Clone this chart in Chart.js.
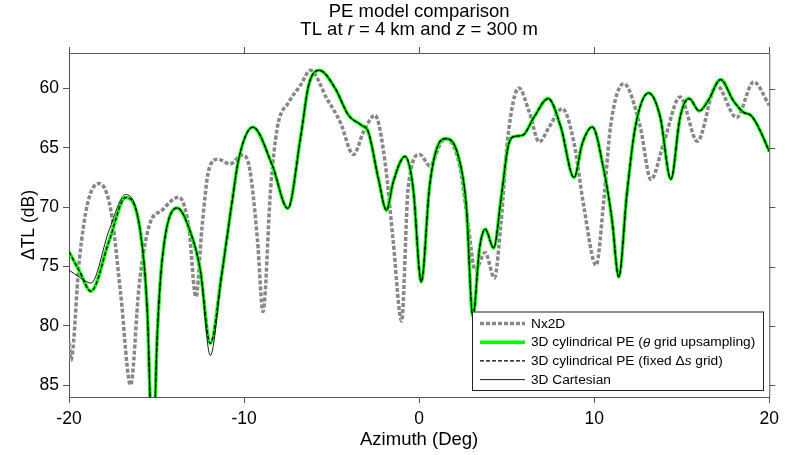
<!DOCTYPE html>
<html>
<head>
<meta charset="utf-8">
<script src="https://cdn.jsdelivr.net/npm/chart.js@4.4.0/dist/chart.umd.min.js"></script>
<style>
  html, body { margin: 0; padding: 0; background: #fff; }
  #wrap { width: 785px; height: 455px; }
</style>
</head>
<body>
<div id="wrap"><canvas id="c" width="785" height="455"></canvas></div>
<script>
// --- data ---
const xTicks = [-20, -10, 0, 10, 20];
const yTicks = [60, 65, 70, 75, 80, 85];

// Nx2D (grey dotted)
const nx2dAz = [-20, -19.89, -19.41, -18.94, -18.28, -17.61, -17.05, -16.48, -16.0, -15.44, -14.68, -13.73, -13.16, -12.75, -12.4, -12.02, -11.5, -10.8, -10.1, -9.72, -9.24, -8.92, -8.48, -8.11, -7.44, -6.78, -6.21, -5.27, -4.51, -3.75, -3.18, -2.52, -1.95, -1.48, -1.0, -0.63, 0.04, 0.61, 1.27, 1.55, 2.31, 2.78, 3.2, 3.77, 4.3, 4.68, 5.06, 5.7, 6.29, 6.86, 7.43, 8.18, 8.85, 9.41, 10.11, 10.55, 10.93, 11.69, 12.63, 13.24, 13.96, 14.91, 15.89, 16.99, 18.13, 19.11, 20];
const nx2dTL = [81.4, 82.9, 74.46, 69.69, 68.0, 70.25, 77.27, 85.0, 76.7, 71.66, 70.25, 69.15, 71.66, 77.56, 71.66, 66.88, 65.95, 66.35, 65.6, 66.46, 72.64, 78.8, 68.42, 63.37, 61.13, 59.72, 58.46, 60.84, 62.81, 65.56, 63.66, 62.25, 66.18, 72.9, 79.6, 68.42, 65.56, 66.52, 64.5, 64.25, 66.46, 71.24, 75.3, 73.82, 75.96, 71.24, 64.2, 59.95, 61.97, 64.5, 63.23, 61.69, 64.6, 69.97, 74.89, 69.4, 63.23, 59.58, 63.23, 67.67, 64.64, 60.71, 64.44, 59.72, 62.44, 59.44, 61.4];

// 3D cylindrical PE and 3D Cartesian share one azimuth grid
const cylAz = [-20, -19.4, -18.75, -17.7, -16.76, -15.91, -15.53, -15.22, -14.95, -14.68, -13.82, -13.07, -12.5, -11.93, -11.27, -10.7, -10.3, -9.5, -8.39, -7.5, -6.78, -6.31, -5.7, -4.79, -4.03, -3.28, -2.9, -2.33, -1.86, -1.48, -0.8, -0.34, 0.12, 0.6, 1.08, 1.55, 2.22, 2.69, 3.07, 3.45, 3.77, 4.26, 4.68, 5.06, 5.34, 5.91, 6.57, 7.37, 8.09, 8.85, 9.32, 9.89, 10.55, 11.02, 11.4, 11.87, 12.35, 13.11, 13.77, 14.38, 14.91, 15.42, 16.0, 16.52, 17.22, 17.94, 18.5, 18.98, 19.4, 20];
const cylUpTL = [73.77, 75.4, 77.08, 72.8, 69.18, 72.2, 78.7, 91, 80.5, 74.46, 70.06, 72.08, 75.3, 81.48, 75.6, 69.7, 65.9, 63.25, 66.46, 70.1, 64.2, 59.72, 58.46, 60.0, 62.25, 63.1, 63.66, 67.58, 70.25, 67.87, 65.72, 68.42, 76.29, 68.2, 64.78, 64.22, 65.62, 69.83, 79.2, 73.48, 71.85, 73.43, 69.27, 65.05, 64.08, 63.94, 62.39, 60.84, 63.23, 67.5, 64.64, 63.23, 66.88, 71.1, 75.87, 68.85, 63.23, 60.37, 62.39, 67.64, 62.39, 60.84, 61.88, 60.99, 59.24, 61.0, 61.97, 62.3, 63.3, 65.3];
const cylFixTL = cylUpTL.slice();
const cartTL = [75.3, 75.9, 76.4, 71.9, 68.93, 72.2, 78.7, 91, 80.5, 74.46, 70.06, 72.08, 75.3, 82.5, 75.6, 69.7, 65.9, 63.25, 66.46, 70.1, 64.2, 59.72, 58.46, 60.0, 62.25, 63.1, 63.66, 67.58, 70.25, 67.87, 65.72, 68.42, 76.29, 68.2, 64.78, 64.22, 65.62, 69.83, 79.2, 73.48, 71.85, 73.43, 69.27, 65.05, 64.08, 63.94, 62.39, 60.84, 63.23, 67.5, 64.64, 63.23, 66.88, 71.1, 75.87, 68.85, 63.23, 60.37, 62.39, 67.64, 62.39, 60.84, 61.88, 60.99, 59.24, 61.0, 61.97, 62.3, 63.3, 65.3];

const FONT = '"Liberation Sans", Arial, sans-serif';
const AXIS = '#555';

function pts(az, tl) {
    return az.map((a, i) => ({ x: a, y: tl[i] }));
}

// texte avec segments italiques
function richText(ctx, parts, x, y, size, align) {
    let w = 0;
    parts.forEach(p => {
        ctx.font = (p[1] ? 'italic ' : '') + size + 'px ' + FONT;
        w += ctx.measureText(p[0]).width;
    });
    let cx = align === 'center' ? x - w / 2 : x;
    parts.forEach(p => {
        ctx.font = (p[1] ? 'italic ' : '') + size + 'px ' + FONT;
        ctx.fillText(p[0], cx, y);
        cx += ctx.measureText(p[0]).width;
    });
}

const legendItems = [
    { parts: [['Nx2D', false]], color: '#888', width: 3.5, dash: [4, 2] },
    { parts: [['3D cylindrical PE (', false], ['\u03B8', true], [' grid upsampling)', false]], color: '#00ff00', width: 3.5, dash: [] },
    { parts: [['3D cylindrical PE (fixed \u0394', false], ['s', true], [' grid)', false]], color: '#000', width: 1.3, dash: [4, 2] },
    { parts: [['3D Cartesian', false]], color: '#000', width: 0.9, dash: [] }
];

const decor = {
    id: 'decor',
    afterDatasetsDraw(chart) {
        const ctx = chart.ctx;
        // legende dans le cadre
        const bx = 472, by = 311.5, bw = 291, bh = 78.5;
        ctx.save();
        ctx.fillStyle = '#fff';
        ctx.fillRect(bx, by, bw, bh);
        ctx.strokeStyle = '#222';
        ctx.lineWidth = 1;
        ctx.strokeRect(bx + 0.5, by + 0.5, bw, bh);
        ctx.textBaseline = 'middle';
        ctx.fillStyle = '#000';
        legendItems.forEach((it, i) => {
            const y = by + 12 + i * 18.7;
            ctx.beginPath();
            ctx.strokeStyle = it.color;
            ctx.lineWidth = it.width;
            ctx.setLineDash(it.dash);
            ctx.moveTo(480, y);
            ctx.lineTo(525, y);
            ctx.stroke();
            ctx.setLineDash([]);
            richText(ctx, it.parts, 531, y + 0.5, 13.7, 'left');
        });
        ctx.restore();
    },
    afterDraw(chart) {
        const ctx = chart.ctx;
        const a = chart.chartArea;
        const xs = chart.scales.x, ys = chart.scales.y;
        ctx.save();
        // cadre haut / droite + graduations
        ctx.strokeStyle = AXIS;
        ctx.lineWidth = 1;
        ctx.beginPath();
        ctx.moveTo(a.left, a.top + 0.5);
        ctx.lineTo(a.right + 0.5, a.top + 0.5);
        ctx.lineTo(a.right + 0.5, a.bottom);
        xTicks.forEach(v => {
            const px = Math.round(xs.getPixelForValue(v)) + 0.5;
            ctx.moveTo(px, a.top);
            ctx.lineTo(px, a.top - 6);
        });
        yTicks.forEach(v => {
            const py = Math.round(ys.getPixelForValue(v)) + 0.5;
            ctx.moveTo(a.right, py);
            ctx.lineTo(a.right + 6, py);
        });
        ctx.stroke();

        // titres
        ctx.fillStyle = '#000';
        ctx.textBaseline = 'middle';
        const cx = (a.left + a.right) / 2;
        richText(ctx, [['PE model comparison', false]], cx, 12, 18.5, 'center');
        richText(ctx, [['TL at ', false], ['r', true], [' = 4 km and ', false], ['z', true], [' = 300 m', false]], cx, 30, 18.5, 'center');
        richText(ctx, [['Azimuth (Deg)', false]], cx, 440, 18.5, 'center');
        ctx.translate(29, (a.top + a.bottom) / 2);
        ctx.rotate(-Math.PI / 2);
        richText(ctx, [['\u0394TL (dB)', false]], 0, 0, 17.5, 'center');
        ctx.restore();
    }
};

new Chart(document.getElementById('c'), {
    type: 'line',
    data: {
        datasets: [
            { label: '3D Cartesian', data: pts(cylAz, cartTL), borderColor: '#000', borderWidth: 0.9, order: 0 },
            { label: '3D cylindrical PE (fixed \u0394s grid)', data: pts(cylAz, cylFixTL), borderColor: '#000', borderWidth: 1.3, borderDash: [4, 2], order: 1 },
            { label: '3D cylindrical PE (\u03B8 grid upsampling)', data: pts(cylAz, cylUpTL), borderColor: '#00ff00', borderWidth: 3.5, order: 2 },
            { label: 'Nx2D', data: pts(nx2dAz, nx2dTL), borderColor: '#888', borderWidth: 3.5, borderDash: [4, 2], order: 3 }
        ]
    },
    options: {
        responsive: false,
        animation: false,
        elements: {
            point: { radius: 0 },
            line: { cubicInterpolationMode: 'monotone', fill: false, borderCapStyle: 'butt' }
        },
        layout: { padding: { top: 53, right: 14, left: 0, bottom: 0 } },
        plugins: { legend: { display: false }, title: { display: false }, tooltip: { enabled: false } },
        scales: {
            x: {
                type: 'linear', min: -20, max: 20,
                afterBuildTicks: s => { s.ticks = xTicks.map(v => ({ value: v })); },
                afterFit: s => { s.height = 58; },
                ticks: { font: { family: FONT, size: 17.5 }, color: '#000', padding: 6, maxRotation: 0 },
                grid: { drawOnChartArea: false, tickLength: 6, color: AXIS },
                border: { color: AXIS }
            },
            y: {
                type: 'linear', min: 57, max: 86, reverse: true,
                afterBuildTicks: s => { s.ticks = yTicks.map(v => ({ value: v })); },
                afterFit: s => { s.width = 69; },
                ticks: { font: { family: FONT, size: 17.5 }, color: '#000', padding: 4 },
                grid: { drawOnChartArea: false, tickLength: 6, color: AXIS },
                border: { color: AXIS }
            }
        }
    },
    plugins: [decor]
});
</script>
</body>
</html>
